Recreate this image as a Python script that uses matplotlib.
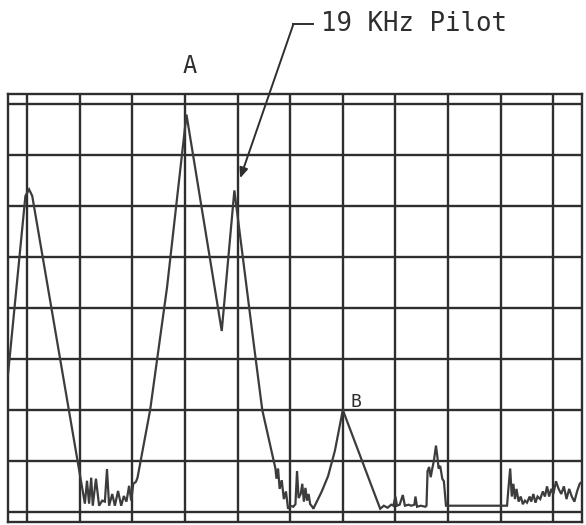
import matplotlib.pyplot as plt

# spectrum trace (x in divisions, y in divisions above the bottom line)
freq_div = [-0.36, -0.03, 0.04, 0.10, 1.10,
            1.14, 1.18, 1.22, 1.25, 1.31, 1.37, 1.43, 1.48, 1.52, 1.56, 1.62, 1.67,
            1.73, 1.79, 1.84, 1.89, 1.94, 1.98, 2.02, 2.07, 2.10,
            2.34, 2.66, 3.03, 3.70, 3.94, 4.32, 4.47, 4.72,
            4.74, 4.77, 4.80, 4.84, 4.88, 4.92, 4.96, 5.00, 5.06, 5.10, 5.13, 5.16,
            5.20, 5.23, 5.26, 5.29, 5.32, 5.35, 5.38, 5.42, 5.44,
            5.60, 5.72, 5.85, 6.00, 6.71,
            6.78, 6.85, 6.92, 6.96, 7.00, 7.03, 7.08, 7.14, 7.18, 7.25, 7.30, 7.36,
            7.38, 7.41, 7.48, 7.57,
            7.59, 7.61, 7.64, 7.67, 7.70, 7.73, 7.77, 7.80, 7.82, 7.85, 7.89, 7.92, 7.96,
            9.05, 9.12, 9.15, 9.18, 9.21, 9.24, 9.27, 9.30, 9.34, 9.38, 9.42, 9.46,
            9.50, 9.55, 9.58, 9.62, 9.66, 9.70, 9.75, 9.80, 9.84, 9.88, 9.92, 9.96,
            10.00, 10.05, 10.10, 10.15, 10.20, 10.25, 10.30, 10.35, 10.40, 10.45,
            10.50, 10.55]
level_div = [2.70, 6.20, 6.33, 6.20, 0.16,
             0.61, 0.16, 0.67, 0.12, 0.65, 0.12, 0.22, 0.20, 0.84, 0.12, 0.35, 0.12,
             0.41, 0.12, 0.31, 0.20, 0.51, 0.22, 0.55, 0.59, 0.67,
             2.00, 4.40, 7.80, 3.55, 6.31, 3.20, 2.00, 0.85,
             0.65, 0.85, 0.45, 0.62, 0.25, 0.40, 0.06, 0.12, 0.10, 0.15, 0.80, 0.27,
             0.35, 0.55, 0.20, 0.47, 0.22, 0.35, 0.15, 0.10, 0.06,
             0.40, 0.70, 1.20, 2.00, 0.06,
             0.12, 0.08, 0.14, 0.12, 0.30, 0.12, 0.14, 0.33, 0.12, 0.14, 0.12, 0.14,
             0.30, 0.10, 0.12, 0.10,
             0.12, 0.80, 0.88, 0.68, 0.85, 1.00, 1.30, 1.05, 0.85, 0.90, 0.65, 0.60, 0.12,
             0.12, 0.12, 0.50, 0.85, 0.30, 0.55, 0.25, 0.45, 0.20, 0.30, 0.15, 0.22,
             0.18, 0.30, 0.20, 0.35, 0.18, 0.30, 0.25, 0.40, 0.30, 0.50, 0.30, 0.45,
             0.35, 0.60, 0.45, 0.35, 0.50, 0.25, 0.45, 0.30, 0.20, 0.40,
             0.55, 0.60]

peak_labels = ["A", "B"]
peak_pos = [(3.10, 8.75), (6.24, 2.16)]
pilot_text = "19 KHz Pilot"

ink = "#2e2e2e"

fig = plt.figure(figsize=(5.86, 5.25), dpi=100)
ax = fig.add_axes([0.0137, 0.0057, 0.98, 0.815])

ax.plot(freq_div, level_div, color="#3c3c3c", lw=1.6, solid_joinstyle="miter", zorder=3)

ax.set_xlim(-0.36, 10.55)
ax.set_ylim(-0.2, 8.2)
ax.set_xticks(range(11))
ax.set_yticks(range(9))
ax.tick_params(length=0, labelbottom=False, labelleft=False)
ax.grid(True, color=ink, lw=1.7)
for s in ax.spines.values():
    s.set_color(ink)
    s.set_linewidth(1.7)

ax.text(peak_pos[0][0], peak_pos[0][1], peak_labels[0], ha="center", va="center",
        family="DejaVu Sans Mono", fontsize=17, color=ink, clip_on=False)
ax.text(peak_pos[1][0], peak_pos[1][1], peak_labels[1], ha="center", va="center",
        family="DejaVu Sans Mono", fontsize=13, color=ink, zorder=4)

# pilot callout with leader line
ax.text(5.58, 9.57, pilot_text, ha="left", va="center", family="DejaVu Sans Mono",
        fontsize=18.5, color=ink, clip_on=False)
ax.plot([5.06, 5.44], [9.57, 9.57], color=ink, lw=1.4, clip_on=False)
ax.annotate("", xy=(4.05, 6.55), xytext=(5.06, 9.57),
            arrowprops=dict(arrowstyle="-|>,head_length=0.6,head_width=0.25",
                            color=ink, lw=1.4, shrinkA=0, shrinkB=0),
            annotation_clip=False)

fig.savefig("out.png", dpi=100)
